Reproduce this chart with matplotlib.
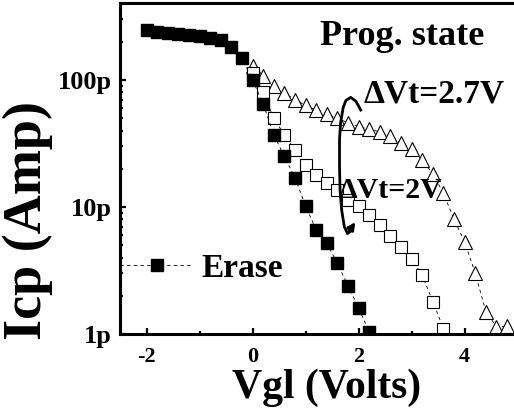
import matplotlib
matplotlib.use("Agg")
import matplotlib.pyplot as plt
from matplotlib.ticker import FixedLocator, FixedFormatter, LogLocator, NullFormatter
import numpy as np

plt.rcParams['font.family'] = ['Liberation Serif', 'DejaVu Serif']
plt.rcParams['font.weight'] = 'bold'
plt.rcParams['axes.labelweight'] = 'bold'
plt.rcParams['axes.unicode_minus'] = False

# erase curve (filled squares), Vgl in volts, Icp in pA
v_erase = [-2.0, -1.8, -1.6, -1.4, -1.2, -1.0, -0.8, -0.6, -0.4, -0.2, 0.0,
           0.2, 0.4, 0.6, 0.8, 1.0, 1.2, 1.4, 1.6, 1.8, 2.0, 2.2]
i_erase = [246, 240, 235, 230, 226, 222, 215, 205, 182, 149, 100,
           65, 37, 25, 17, 10.2, 6.6, 5.2, 3.6, 2.4, 1.6, 1.04]

# programmed, dVt = 2V (open squares)
v_prog2 = [0.0, 0.2, 0.4, 0.6, 0.8, 1.0, 1.2, 1.4, 1.6, 1.8, 2.0,
           2.2, 2.4, 2.6, 2.8, 3.0, 3.2, 3.4, 3.6]
i_prog2 = [114, 80, 50, 37, 28, 21.5, 18, 15.5, 13.6, 11.4, 10.2,
           8.6, 7.2, 5.9, 4.8, 3.9, 2.9, 1.8, 1.1]

# programmed, dVt = 2.7V (open triangles)
v_prog27 = [0.0, 0.2, 0.4, 0.6, 0.8, 1.0, 1.2, 1.4, 1.6, 1.8, 2.0, 2.2,
            2.4, 2.6, 2.8, 3.0, 3.2, 3.4, 3.6, 3.8, 4.0, 4.2, 4.4, 4.6, 4.8]
i_prog27 = [130, 108, 89, 79, 70, 63, 58, 54, 50, 46, 43, 41,
            39, 36, 32, 28.5, 23.4, 18.2, 12.8, 8.0, 5.3, 3.0, 1.5, 1.14, 1.15]

# loop drawn round the two programmed curves (Vgl, pA)
loop_v = [2.04, 1.95, 1.85, 1.76, 1.71, 1.66, 1.64, 1.64, 1.65, 1.68, 1.73, 1.79, 1.86, 1.94]
loop_i = [58, 68, 73, 69, 61, 46, 34, 20.6, 13.5, 9.5, 7.0, 6.2, 6.5, 7.6]

x_ticks = [-2, 0, 2, 4]
y_ticks = [1e-12, 1e-11, 1e-10]
y_labels = ['1p', '10p', '100p']

pA = 1e-12

fig = plt.figure(figsize=(5.14, 4.13), dpi=100)
ax = fig.add_axes([120 / 514, 79 / 413, 397.7 / 514, 331 / 413])

dash = (0, (4, 4))
ax.plot(v_prog27, np.array(i_prog27) * pA, color='black', lw=0.6, ls=dash,
        marker='^', ms=10.5, mfc='white', mec='black', mew=0.8)
ax.plot(v_prog2, np.array(i_prog2) * pA, color='black', lw=0.6, ls=dash,
        marker='s', ms=8.5, mfc='white', mec='black', mew=0.8)
ax.plot(v_erase, np.array(i_erase) * pA, color='black', lw=0.6, ls=dash,
        marker='s', ms=8.5, mfc='black', mec='black', label='Erase')

# loop + arrow head
ax.plot(loop_v[:-1], np.array(loop_i[:-1]) * pA, color='black', lw=2)
ax.annotate('', xy=(loop_v[-1], loop_i[-1] * pA), xytext=(loop_v[-3], loop_i[-3] * pA),
            arrowprops=dict(arrowstyle='-|>', color='black', lw=2, mutation_scale=11,
                            shrinkA=0, shrinkB=0))

ax.set_yscale('log')
ax.set_xlim(-2.5, 5.0)
ax.set_ylim(1e-12, 4.04e-10)

ax.xaxis.set_major_locator(FixedLocator(x_ticks))
ax.xaxis.set_minor_locator(FixedLocator([-1, 1, 3]))
ax.yaxis.set_major_locator(FixedLocator(y_ticks))
ax.yaxis.set_major_formatter(FixedFormatter(y_labels))
ax.yaxis.set_minor_locator(LogLocator(base=10, subs=np.arange(2, 10)))
ax.yaxis.set_minor_formatter(NullFormatter())

ax.tick_params(which='both', direction='in', width=1.6)
ax.tick_params(which='major', length=4)
ax.tick_params(which='minor', length=2.5)
ax.tick_params(axis='x', labelsize=16, pad=9)
ax.tick_params(axis='y', labelsize=19, pad=6)
for s in ax.spines.values():
    s.set_linewidth(2.2)

ax.set_xlabel('Vgl (Volts)', fontsize=30)
ax.xaxis.set_label_coords(0.52, -0.104)
ax.set_ylabel('Icp (Amp)', fontsize=39)
ax.yaxis.set_label_coords(-0.168, 0.344)

ax.text(1.28, 189 * pA, 'Prog. state', fontsize=26, ha='left', va='baseline')
ax.text(2.10, 67 * pA, '\u0394Vt=2.7V', fontsize=24, ha='left', va='baseline')
ax.text(1.63, 11.8 * pA, '\u0394Vt=2V', fontsize=21.5, ha='left', va='baseline')

ax.legend(loc='center left', bbox_to_anchor=(0, 0.199), frameon=False,
          fontsize=24, handlelength=2.2, handletextpad=0.25,
          borderpad=0, borderaxespad=0, numpoints=1)

fig.savefig('out.png', dpi=100)
